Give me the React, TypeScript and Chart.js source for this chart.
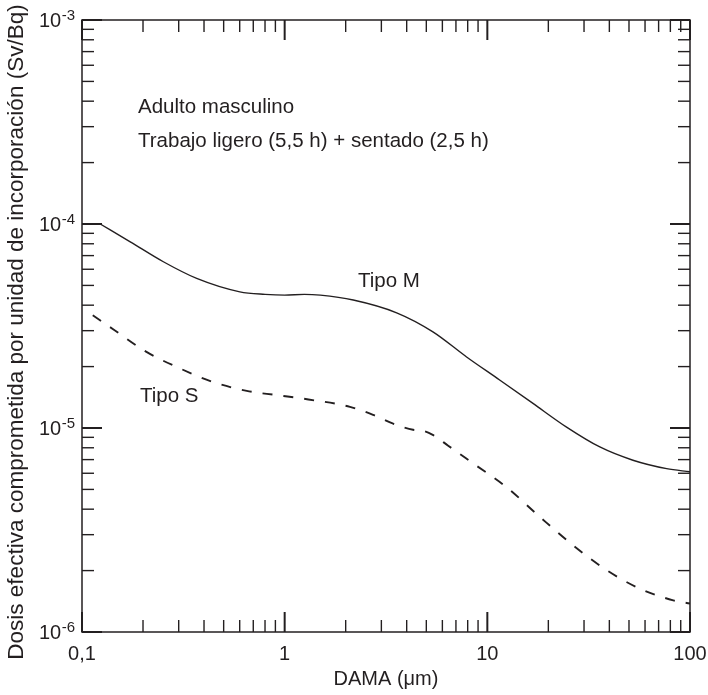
import React, { useEffect, useRef } from 'react';
import { Chart, registerables } from 'chart.js';

Chart.register(...registerables);

const INK = '#231f20';
const FONT = '"Liberation Sans", Arial, Helvetica, sans-serif';

// Tipo M (solid)
const tipoMX = [0.123, 0.173, 0.252, 0.368, 0.601, 0.8, 1.0, 1.25, 1.5, 2.18, 3.57, 5.39, 7.9, 11.5, 16.8, 24.6, 35.9, 52.3, 76.7, 100];
const tipoMY = [1.0e-4, 8.18e-5, 6.53e-5, 5.41e-5, 4.65e-5, 4.52e-5, 4.48e-5, 4.52e-5, 4.48e-5, 4.24e-5, 3.67e-5, 2.96e-5, 2.23e-5, 1.72e-5, 1.32e-5, 1.01e-5, 8.07e-6, 6.95e-6, 6.32e-6, 6.1e-6];

// Tipo S (dashed)
const tipoSX = [0.113, 0.143, 0.208, 0.304, 0.444, 0.65, 0.914, 1.31, 2.1, 2.73, 3.43, 4.3, 4.8, 5.41, 6.41, 8.52, 12.4, 18.2, 26.5, 38.8, 56.6, 82.7, 100];
const tipoSY = [3.57e-5, 3.04e-5, 2.36e-5, 1.96e-5, 1.68e-5, 1.52e-5, 1.45e-5, 1.38e-5, 1.27e-5, 1.16e-5, 1.05e-5, 9.8e-6, 9.7e-6, 9.22e-6, 8.19e-6, 6.7e-6, 5.14e-6, 3.66e-6, 2.66e-6, 2.01e-6, 1.63e-6, 1.43e-6, 1.38e-6];

// Axis ticks
const xTickValues = [0.1, 1, 10, 100];
const xTickLabels = ['0,1', '1', '10', '100'];
const yTickValues = [1e-6, 1e-5, 1e-4, 1e-3];
const yTickExponents = ['-6', '-5', '-4', '-3'];

const xTitle = 'DAMA (μm)';
const yTitle = 'Dosis efectiva comprometida por unidad de incorporación (Sv/Bq)';
const noteLines = ['Adulto masculino', 'Trabajo ligero (5,5 h) + sentado (2,5 h)'];
const seriesLabels = ['Tipo M', 'Tipo S'];

const framePlugin = {
  id: 'frameTicks',
  afterDraw(chart: any) {
    const { ctx, chartArea: a, scales } = chart;
    const xs = scales.x;
    const ys = scales.y;
    ctx.save();
    ctx.strokeStyle = INK;
    ctx.fillStyle = INK;

    // frame
    ctx.lineWidth = 1.5;
    ctx.strokeRect(a.left, a.top, a.right - a.left, a.bottom - a.top);

    const MAJ = 20;
    const MIN = 12;

    const line = (x1: number, y1: number, x2: number, y2: number, w: number) => {
      ctx.lineWidth = w;
      ctx.beginPath();
      ctx.moveTo(x1, y1);
      ctx.lineTo(x2, y2);
      ctx.stroke();
    };

    // x ticks (bottom + top)
    xTickValues.forEach((v, i) => {
      const px = xs.getPixelForValue(v);
      line(px, a.bottom, px, a.bottom - MAJ, 2);
      line(px, a.top, px, a.top + MAJ, 2);
      if (i < xTickValues.length - 1) {
        for (let m = 2; m <= 9; m++) {
          const mp = xs.getPixelForValue(v * m);
          line(mp, a.bottom, mp, a.bottom - MIN, 1.4);
          line(mp, a.top, mp, a.top + MIN, 1.4);
        }
      }
    });

    // y ticks (left + right)
    yTickValues.forEach((v, i) => {
      const py = ys.getPixelForValue(v);
      line(a.left, py, a.left + MAJ, py, 2);
      line(a.right, py, a.right - MAJ, py, 2);
      if (i < yTickValues.length - 1) {
        for (let m = 2; m <= 9; m++) {
          const mp = ys.getPixelForValue(v * m);
          line(a.left, mp, a.left + MIN, mp, 1.4);
          line(a.right, mp, a.right - MIN, mp, 1.4);
        }
      }
    });

    // x tick labels
    ctx.font = `20px ${FONT}`;
    ctx.textAlign = 'center';
    ctx.textBaseline = 'alphabetic';
    xTickValues.forEach((v, i) => {
      const px = xs.getPixelForValue(v);
      ctx.fillText(xTickLabels[i], px, a.bottom + 28);
    });

    // y tick labels: 10 with superscript exponent
    yTickValues.forEach((v, i) => {
      const py = ys.getPixelForValue(v);
      const rightEdge = a.left - 7;
      ctx.font = `15px ${FONT}`;
      const ew = ctx.measureText(yTickExponents[i]).width;
      ctx.textAlign = 'left';
      ctx.fillText(yTickExponents[i], rightEdge - ew, py);
      ctx.font = `20px ${FONT}`;
      ctx.textAlign = 'right';
      ctx.fillText('10', rightEdge - ew - 0.5, py + 7);
    });

    // y axis title (rotated)
    ctx.save();
    ctx.font = `22.5px ${FONT}`;
    ctx.textAlign = 'center';
    ctx.textBaseline = 'middle';
    ctx.translate(17, (a.top + a.bottom) / 2 + 6);
    ctx.rotate(-Math.PI / 2);
    ctx.fillText(yTitle, 0, 0);
    ctx.restore();

    // annotations
    ctx.font = `20.5px ${FONT}`;
    ctx.textAlign = 'left';
    ctx.textBaseline = 'alphabetic';
    ctx.fillText(noteLines[0], a.left + 56, a.top + 93);
    ctx.fillText(noteLines[1], a.left + 56, a.top + 127);
    ctx.fillText(seriesLabels[0], a.left + 276, a.top + 267);
    ctx.fillText(seriesLabels[1], a.left + 58, a.top + 382);

    ctx.restore();
  },
};

export default function App() {
  const ref = useRef<HTMLCanvasElement | null>(null);

  useEffect(() => {
    if (!ref.current) return;
    Chart.defaults.font.family = FONT;
    const chart = new Chart(ref.current, {
      type: 'line',
      data: {
        datasets: [
          {
            label: seriesLabels[0],
            data: tipoMX.map((x, i) => ({ x, y: tipoMY[i] })),
            borderColor: INK,
            borderWidth: 1.4,
            pointRadius: 0,
            fill: false,
            cubicInterpolationMode: 'monotone',
          },
          {
            label: seriesLabels[1],
            data: tipoSX.map((x, i) => ({ x, y: tipoSY[i] })),
            borderColor: INK,
            borderWidth: 1.9,
            borderDash: [10, 11],
            pointRadius: 0,
            fill: false,
            cubicInterpolationMode: 'monotone',
          },
        ],
      },
      options: {
        animation: false,
        responsive: false,
        maintainAspectRatio: false,
        devicePixelRatio: 1,
        layout: { padding: { top: 20, right: 18, left: 0, bottom: 0 } },
        plugins: {
          legend: { display: false },
          tooltip: { enabled: false },
        },
        scales: {
          x: {
            type: 'logarithmic',
            min: 0.1,
            max: 100,
            grid: { display: false },
            border: { display: false },
            ticks: { display: false },
            title: {
              display: true,
              text: xTitle,
              color: INK,
              font: { size: 20, family: FONT },
              padding: { top: 0, bottom: 4 },
            },
            afterFit: (s: any) => {
              s.height = 63;
            },
          },
          y: {
            type: 'logarithmic',
            min: 1e-6,
            max: 1e-3,
            grid: { display: false },
            border: { display: false },
            ticks: { display: false },
            title: { display: false },
            afterFit: (s: any) => {
              s.width = 82;
            },
          },
        },
      },
      plugins: [framePlugin],
    } as any);
    return () => chart.destroy();
  }, []);

  return (
    <div style={{ position: 'fixed', left: 0, top: 0, width: 708, height: 695, background: '#fff' }}>
      <canvas ref={ref} width={708} height={695} style={{ display: 'block', width: 708, height: 695 }} />
    </div>
  );
}
